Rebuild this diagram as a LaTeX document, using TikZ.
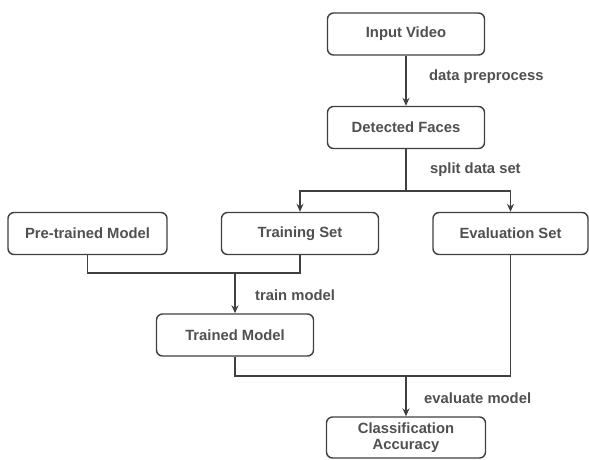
\documentclass[tikz,border=0pt]{standalone}
\usepackage{fontspec}
\setmainfont{Liberation Sans}
\usetikzlibrary{arrows.meta}
\definecolor{ln}{HTML}{404040}
\definecolor{tx}{HTML}{505050}
\tikzset{
  box/.style={draw=ln, line width=1.4pt, rounded corners=6pt, fill=white,
    minimum width=157pt, minimum height=42pt, inner sep=0pt,
    font=\fontsize{14.8}{16}\selectfont\bfseries, text=tx, align=center},
  conn/.style={draw=ln, line width=1.4pt},
  arr/.style={conn, -{Stealth[length=8pt,width=7pt]}},
  lab/.style={font=\fontsize{14.8}{16}\selectfont\bfseries, text=tx, anchor=west, inner sep=0pt}
}
\begin{document}
\begin{tikzpicture}[x=1pt,y=-1pt]
\useasboundingbox[fill=white] (0,0) rectangle (589,459);
\node[box] (in) at (406,34) {Input Video};
\node[box] (det) at (406,127.5) {Detected Faces};
\node[box, minimum width=159pt] (pre) at (87.5,233.5) {Pre-trained Model};
\node[box] (train) at (300,233.5) {Training Set};
\node[box, minimum width=155pt] (eval) at (510.5,233.5) {Evaluation Set};
\node[box] (trained) at (235,335) {Trained Model};
\node[box, minimum width=159pt, minimum height=41pt] (cls) at (406,437.5) {Classification\\Accuracy};
\coordinate (s1) at (406,191);
\coordinate (m1) at (235,273);
\coordinate (m2) at (406,376);
\draw[arr] (in) -- (det);
\draw[conn] (det) -- (s1);
\draw[arr] (s1) -| (train.north);
\draw[arr] (s1) -| (eval.north);
\draw[conn] (pre.south) |- (m1);
\draw[conn] (train.south) |- (m1);
\draw[arr] (m1) -- (trained);
\draw[conn] (trained.south) |- (m2);
\draw[conn] (eval.south) |- (m2);
\draw[arr] (m2) -- (cls);
\node[lab] (l1) at (429,77) {data preprocess};
\node[lab] (l2) at (430,170) {split data set};
\node[lab] (l3) at (255,295) {train model};
\node[lab] (l4) at (424,398) {evaluate model};
\end{tikzpicture}
\end{document}
